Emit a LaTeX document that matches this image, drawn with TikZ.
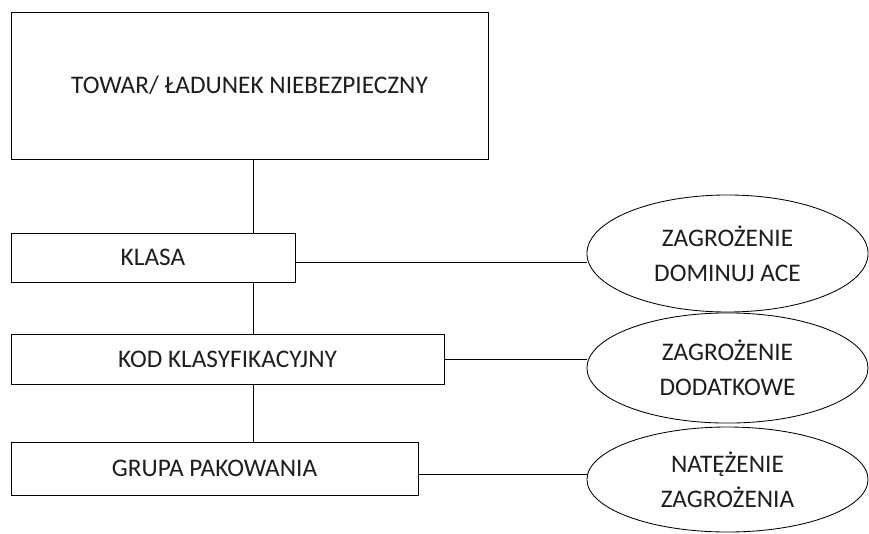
\documentclass[tikz,border=0pt]{standalone}
\usepackage{fontspec}
\setmainfont{Carlito}
\usetikzlibrary{shapes.geometric,positioning}
\definecolor{inkgray}{RGB}{30,30,30}
\tikzset{
  wire/.style={black,line width=0.8pt},
  field/.style={draw=black,line width=0.8pt,fill=white,inner sep=0pt,
                align=center,text=inkgray,font=\fontsize{24}{33}\selectfont},
  hazard/.style={field,ellipse,minimum width=93.7mm},
}

\begin{document}
\begin{tikzpicture}[x=1cm,y=1cm]
  \path[use as bounding box] (0,0) rectangle (28.967,17.767);

  \node[field,minimum width=159mm,minimum height=49mm] (towar) at (8.317,14.917)
    {TOWAR/ ŁADUNEK NIEBEZPIECZNY};
  \node[field,minimum width=94.7mm,minimum height=16.3mm] (klasa) at (5.1,9.183)
    {KLASA};
  \node[field,minimum width=144.3mm,minimum height=16.7mm] (kod) at (7.583,5.8)
    {KOD KLASYFIKACYJNY};
  \node[field,minimum width=135.7mm,minimum height=17.7mm] (grupa) at (7.15,2.15)
    {GRUPA PAKOWANIA};

  \node[hazard,minimum height=39mm] (dominujace) at (24.25,9.317)
    {ZAGROŻENIE\\DOMINUJ ACE};
  \node[hazard,minimum height=36.7mm] (dodatkowe) at (24.25,5.5)
    {ZAGROŻENIE\\DODATKOWE};
  \node[hazard,minimum height=35mm] (natezenie) at (24.25,1.783)
    {NATĘŻENIE\\ZAGROŻENIA};

  \coordinate (spine) at (8.433,0);
  \draw[wire] (towar.south -| spine) -- (klasa.north -| spine);
  \draw[wire] (klasa.south -| spine) -- (kod.north -| spine);
  \draw[wire] (kod.south -| spine) -- (grupa.north -| spine);

  \draw[wire] ([yshift=-5pt]klasa.east) -- ([yshift=-5pt]klasa.east -| dominujace.west);
  \draw[wire] (kod.east) -- (kod.east -| dodatkowe.west);
  \draw[wire] ([yshift=-6pt]grupa.east) -- ([yshift=-6pt]grupa.east -| natezenie.west);
\end{tikzpicture}
\end{document}
